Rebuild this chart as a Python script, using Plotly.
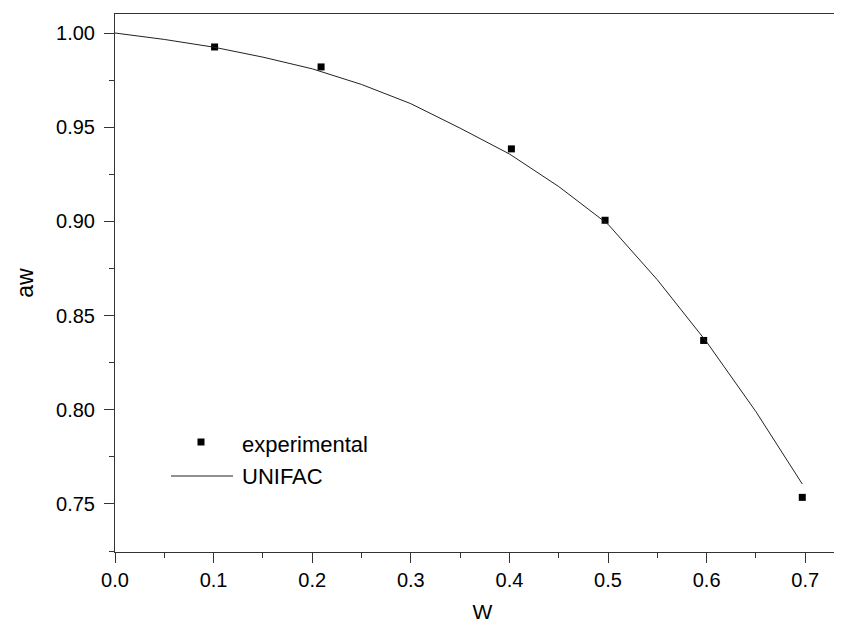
import plotly.graph_objects as go

# experimental data
exp_w = [0.101, 0.209, 0.402, 0.497, 0.597, 0.697]
exp_aw = [0.9926, 0.9820, 0.9385, 0.9006, 0.8368, 0.7535]

# UNIFAC prediction
uni_w = [0.0, 0.05, 0.10, 0.15, 0.20, 0.25, 0.30, 0.35, 0.40, 0.45, 0.50, 0.55, 0.60, 0.65, 0.697]
uni_aw = [1.000, 0.9966, 0.9925, 0.9872, 0.9810, 0.9727, 0.9625, 0.9495, 0.9358, 0.9185, 0.8985, 0.8690, 0.8360, 0.7990, 0.7606]

x_ticks = [0.0, 0.1, 0.2, 0.3, 0.4, 0.5, 0.6, 0.7]
y_ticks = [0.75, 0.80, 0.85, 0.90, 0.95, 1.00]
legend_labels = ["experimental", "UNIFAC"]

FONT = "Liberation Sans, Arial, sans-serif"

# plot area in pixels
L, R, T, B = 107, 0, 6, 81
W_FIG, H_FIG = 842, 625
PW = W_FIG - L - R
PH = H_FIG - T - B


def px(xp):
    return (xp - L) / PW


def py(yp):
    return (H_FIG - B - yp) / PH


fig = go.Figure()
fig.add_trace(go.Scatter(
    x=exp_w, y=exp_aw, mode="markers", name=legend_labels[0],
    marker=dict(symbol="square", size=7, color="black"),
    showlegend=False,
))
fig.add_trace(go.Scatter(
    x=uni_w, y=uni_aw, mode="lines", name=legend_labels[1],
    line=dict(color="#222222", width=1),
    showlegend=False,
))

# hand-made legend (keys + labels)
shapes = [
    dict(type="rect", xref="paper", yref="paper",
         x0=px(189.5), x1=px(196.5), y0=py(437.5), y1=py(430.5),
         fillcolor="black", line=dict(width=0)),
    dict(type="line", xref="paper", yref="paper",
         x0=px(163), x1=px(225), y0=py(468), y1=py(468),
         line=dict(color="#222222", width=1)),
]
annotations = [
    dict(text=legend_labels[0], xref="paper", yref="paper", x=px(232), y=py(436),
         xanchor="left", yanchor="middle", showarrow=False,
         font=dict(family=FONT, size=22, color="black")),
    dict(text=legend_labels[1], xref="paper", yref="paper", x=px(232), y=py(468),
         xanchor="left", yanchor="middle", showarrow=False,
         font=dict(family=FONT, size=22, color="black")),
]

fig.update_layout(
    width=W_FIG, height=H_FIG,
    margin=dict(l=L, r=R, t=T, b=B),
    paper_bgcolor="white", plot_bgcolor="white",
    font=dict(family=FONT, color="black", size=20),
    showlegend=False,
    shapes=shapes,
    annotations=annotations,
)

fig.update_xaxes(
    range=[0, 0.7454],
    tickvals=x_ticks, ticktext=[f"{v:.1f}" for v in x_ticks],
    ticks="outside", ticklen=10, tickwidth=1, tickcolor="#333333",
    minor=dict(ticks="outside", ticklen=5, tickwidth=1, tickcolor="#333333", dtick=0.05, tick0=0),
    showline=True, linecolor="#333333", linewidth=1, mirror=True,
    showgrid=False, zeroline=False,
    tickfont=dict(family=FONT, size=20, color="black"),
    title=dict(text="W", font=dict(family=FONT, size=21, color="black"), standoff=14),
)
fig.update_yaxes(
    range=[0.7245, 1.0101],
    tickvals=y_ticks, ticktext=[f"{v:.2f}" for v in y_ticks],
    ticks="outside", ticklen=10, tickwidth=1, tickcolor="#333333",
    minor=dict(ticks="outside", ticklen=5, tickwidth=1, tickcolor="#333333", dtick=0.025, tick0=0.75),
    showline=True, linecolor="#333333", linewidth=1, mirror=False,
    showgrid=False, zeroline=False,
    ticklabelstandoff=5,
    tickfont=dict(family=FONT, size=20, color="black"),
    title=dict(text="aw", font=dict(family=FONT, size=23, color="black"), standoff=16),
)

fig.write_html("out.html")
